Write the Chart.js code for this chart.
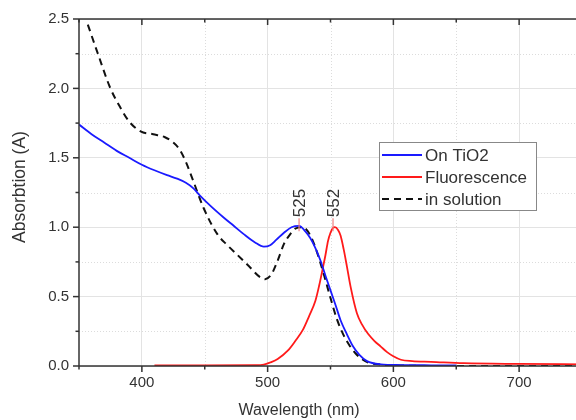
<!DOCTYPE html>
<html>
<head>
<meta charset="utf-8">
<script src="https://cdn.jsdelivr.net/npm/chart.js@4.4.1/dist/chart.umd.min.js"></script>
<style>
  html, body { margin: 0; padding: 0; background: #fff; overflow: hidden; }
  #wrap { width: 576px; height: 420px; overflow: hidden; }
</style>
</head>
<body>
<div id="wrap"><canvas id="chart" width="584" height="420"></canvas></div>
<script>
// On TiO2 (blue)
var tio2Nm  = [350, 360, 370, 380, 390, 400, 410, 420, 428, 435, 441, 446, 455, 465, 473, 481, 490, 497, 502, 507, 513, 519, 525, 530, 534, 538, 542, 546, 550, 554, 558, 563, 568, 573, 579, 590, 606, 630, 650];
var tio2Abs = [1.74, 1.67, 1.61, 1.55, 1.50, 1.45, 1.41, 1.375, 1.35, 1.32, 1.28, 1.23, 1.15, 1.07, 1.01, 0.95, 0.89, 0.86, 0.87, 0.91, 0.96, 1.00, 1.01, 0.97, 0.92, 0.85, 0.76, 0.65, 0.545, 0.44, 0.33, 0.23, 0.14, 0.08, 0.035, 0.012, 0.007, 0.005, 0.004];

// Fluorescence (red)
var fluoNm  = [410, 450, 490, 497, 502, 508, 516, 522, 528, 533, 538, 541, 544, 546, 548, 550, 552, 553.5, 556, 558, 560.5, 563, 566, 571, 575, 580, 585, 590, 595, 600, 606, 615, 630, 656, 700, 750];
var fluoAbs = [0.005, 0.005, 0.006, 0.01, 0.025, 0.05, 0.11, 0.18, 0.26, 0.36, 0.47, 0.58, 0.71, 0.80, 0.90, 0.96, 0.995, 1.00, 0.98, 0.94, 0.84, 0.72, 0.57, 0.38, 0.30, 0.23, 0.18, 0.14, 0.10, 0.07, 0.045, 0.035, 0.03, 0.02, 0.015, 0.012];

// in solution (black dashed)
var solNm  = [357, 365, 375, 383, 390, 399, 409, 418, 425, 430, 435, 441, 449, 460, 468, 476, 485, 494, 498, 503, 508, 513, 518, 522, 528, 532, 536, 540, 545, 550, 555, 560, 565, 570, 575, 580, 590, 600, 650, 750];
var solAbs = [2.46, 2.25, 2.00, 1.86, 1.76, 1.69, 1.67, 1.65, 1.61, 1.56, 1.47, 1.33, 1.14, 0.95, 0.87, 0.80, 0.72, 0.64, 0.625, 0.66, 0.76, 0.88, 0.95, 0.99, 1.00, 0.97, 0.90, 0.80, 0.65, 0.49, 0.34, 0.23, 0.15, 0.09, 0.05, 0.025, 0.01, 0.005, 0.0, 0.0];

var seriesLabels = ["On TiO2", "Fluorescence", "in solution"];
var peakLabels = [525, 552];
var xTicks = [400, 500, 600, 700];
var yTicks = [0.0, 0.5, 1.0, 1.5, 2.0, 2.5];

function toPoints(xs, ys) {
    var pts = [];
    for (var i = 0; i < xs.length; i++) {
        pts.push({x: xs[i], y: ys[i]});
    }
    return pts;
}

var FONT = "'Liberation Sans', Arial, sans-serif";
var TEXT = "#333";

function seg(ctx, x1, y1, x2, y2) {
    ctx.beginPath();
    ctx.moveTo(x1, y1);
    ctx.lineTo(x2, y2);
    ctx.stroke();
}

// minor dotted grid, under the curves
var minorGrid = {
    id: "minorGrid",
    beforeDatasetsDraw: function(chart) {
        var ctx = chart.ctx, a = chart.chartArea, x = chart.scales.x, y = chart.scales.y;
        ctx.save();
        ctx.strokeStyle = "#dcdcdc";
        ctx.lineWidth = 1;
        ctx.setLineDash([1, 2]);
        for (var v = 450; v <= 750; v += 100) {
            var px = Math.round(x.getPixelForValue(v)) + 0.5;
            seg(ctx, px, a.top, px, a.bottom);
        }
        for (var w = 0.25; w < 2.5; w += 0.5) {
            var py = Math.round(y.getPixelForValue(w)) + 0.5;
            seg(ctx, a.left, py, a.right, py);
        }
        ctx.restore();
    }
};

// frame, ticks, titles, peak labels and legend
var decor = {
    id: "decor",
    afterDraw: function(chart) {
        var ctx = chart.ctx, a = chart.chartArea, x = chart.scales.x, y = chart.scales.y;
        ctx.save();
        ctx.strokeStyle = "#333";
        ctx.lineWidth = 1.5;
        seg(ctx, a.left, a.top, a.right, a.top);
        seg(ctx, a.left, a.top, a.left, a.bottom);
        seg(ctx, a.left, a.bottom, a.right, a.bottom);
        seg(ctx, a.right, a.top, a.right, a.bottom);

        for (var v = 350; v <= 750; v += 50) {
            var px = x.getPixelForValue(v);
            var len = (v % 100 === 0) ? 6 : 3.5;
            seg(ctx, px, a.bottom, px, a.bottom + len);
            seg(ctx, px, a.top, px, a.top + len);
        }
        for (var w = 0; w <= 2.5001; w += 0.25) {
            var py = y.getPixelForValue(w);
            var l2 = (Math.round(w * 100) % 50 === 0) ? 6 : 3.5;
            seg(ctx, a.left - l2, py, a.left, py);
            seg(ctx, a.right - l2, py, a.right, py);
        }

        // axis titles
        ctx.fillStyle = TEXT;
        ctx.font = "16px " + FONT;
        ctx.textAlign = "center";
        ctx.textBaseline = "middle";
        ctx.fillText("Wavelength (nm)", 299, 411);
        ctx.save();
        ctx.translate(20, 187);
        ctx.rotate(-Math.PI / 2);
        ctx.font = "17.5px " + FONT;
        ctx.fillText("Absorbtion (A)", 0, 0);
        ctx.restore();

        // peak markers
        ctx.font = "17px " + FONT;
        for (var i = 0; i < peakLabels.length; i++) {
            var pk = peakLabels[i];
            var ppx = x.getPixelForValue(pk);
            var top = y.getPixelForValue(1.065);
            ctx.strokeStyle = "#f08080";
            ctx.lineWidth = 1.2;
            seg(ctx, ppx, top, ppx, y.getPixelForValue(0.97));
            ctx.save();
            ctx.translate(ppx + 1, top - 1);
            ctx.rotate(-Math.PI / 2);
            ctx.textAlign = "left";
            ctx.fillStyle = TEXT;
            ctx.fillText(String(pk), 0, 0);
            ctx.restore();
        }

        // legend
        var bx = 379, by = 142, bw = 157, bh = 68;
        ctx.fillStyle = "#fff";
        ctx.fillRect(bx, by, bw, bh);
        ctx.strokeStyle = "#888";
        ctx.lineWidth = 1;
        ctx.strokeRect(bx + 0.5, by + 0.5, bw, bh);
        var ds = chart.data.datasets;
        for (var j = 0; j < ds.length; j++) {
            var ry = 155 + j * 22;
            ctx.strokeStyle = ds[j].borderColor;
            ctx.lineWidth = ds[j].borderWidth;
            ctx.setLineDash(ds[j].borderDash || []);
            seg(ctx, 382, ry, 422, ry);
            ctx.setLineDash([]);
            ctx.fillStyle = TEXT;
            ctx.textAlign = "left";
            ctx.font = "17px " + FONT;
            ctx.fillText(ds[j].label, 425, ry + 1);
        }
        ctx.restore();
    }
};

new Chart(document.getElementById("chart"), {
    type: "line",
    data: {
        datasets: [{
            label: seriesLabels[0],
            data: toPoints(tio2Nm, tio2Abs),
            borderColor: "#1a1aff",
            borderWidth: 1.8,
            pointRadius: 0,
            cubicInterpolationMode: "monotone"
        }, {
            label: seriesLabels[1],
            data: toPoints(fluoNm, fluoAbs),
            borderColor: "#ff1a1a",
            borderWidth: 1.8,
            pointRadius: 0,
            cubicInterpolationMode: "monotone"
        }, {
            label: seriesLabels[2],
            data: toPoints(solNm, solAbs),
            borderColor: "#111",
            borderWidth: 2,
            borderDash: [7, 5],
            pointRadius: 0,
            cubicInterpolationMode: "monotone"
        }]
    },
    options: {
        responsive: false,
        animation: false,
        layout: { padding: { top: 17, right: 2, left: 0, bottom: 0 } },
        plugins: { legend: { display: false }, tooltip: { enabled: false } },
        scales: {
            x: {
                type: "linear",
                min: 350,
                max: 750,
                afterFit: function(s) { s.height = 54; },
                afterBuildTicks: function(s) { s.ticks = xTicks.map(function(v) { return {value: v}; }); },
                ticks: { color: TEXT, font: { size: 15, family: FONT }, padding: 8 },
                grid: { color: "#e3e3e3", drawTicks: false },
                border: { display: false }
            },
            y: {
                min: 0,
                max: 2.5,
                afterFit: function(s) { s.width = 79; },
                afterBuildTicks: function(s) { s.ticks = yTicks.map(function(v) { return {value: v}; }); },
                ticks: { color: TEXT, font: { size: 15, family: FONT }, padding: 10,
                         callback: function(v) { return v.toFixed(1); } },
                grid: { color: "#e3e3e3", drawTicks: false },
                border: { display: false }
            }
        }
    },
    plugins: [minorGrid, decor]
});
</script>
</body>
</html>
